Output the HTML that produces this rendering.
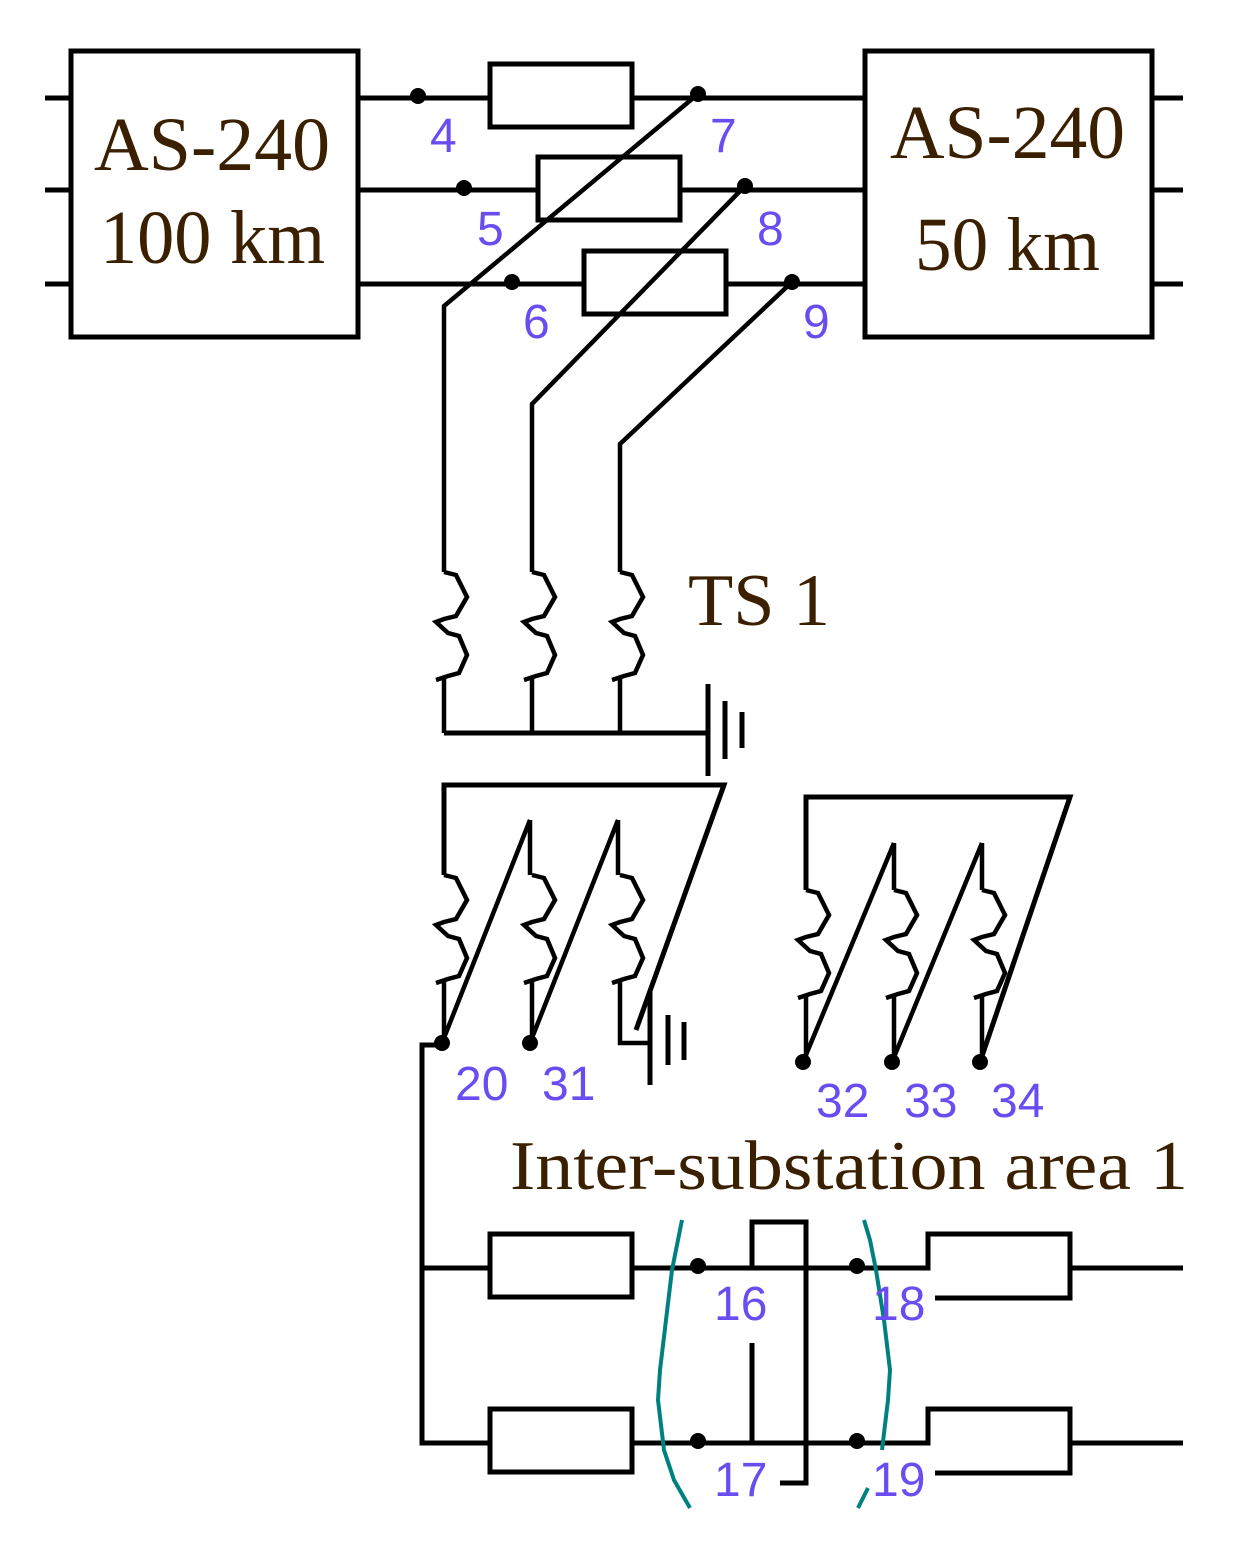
<!DOCTYPE html>
<html><head><meta charset="utf-8"><style>html,body{margin:0;padding:0;background:#fff}svg{display:block}</style></head>
<body>
<svg width="1239" height="1543" viewBox="0 0 1239 1543" xmlns="http://www.w3.org/2000/svg">
<g fill="none" stroke="#000" stroke-width="5">
<rect x="71" y="51" width="287" height="286"/>
<rect x="865" y="51" width="287" height="286"/>
<path d="M45 98H71M45 190H71M45 284H71M1152 98H1183M1152 190H1183M1152 284H1183"/>
<path d="M358 98H490M632 98H865M358 190H538M680 190H865M358 284H584M726 284H865"/>
<rect x="490" y="64" width="142" height="63"/>
<rect x="538" y="157" width="142" height="63"/>
<rect x="584" y="251" width="142" height="63"/>
<path d="M698 94L444 306V572M745 186L532 404V572M792 282L620 444V572" stroke-width="4.5"/>
<g stroke-width="4.5">
<path d="M444 572L456 575L467 597L456 616L444 619L436 622L448 633L459 636L467 655L459 673L448 676L436 680M444 678V733"/>
<path d="M532 572L544 575L555 597L544 616L532 619L524 622L536 633L547 636L555 655L547 673L536 676L524 680M532 678V733"/>
<path d="M620 572L632 575L643 597L632 616L620 619L612 622L624 633L635 636L643 655L635 673L624 676L612 680M620 678V733"/>
</g>
<path d="M444 733H708M708 684V776M725 701V759M742 712V748"/>
<path d="M444 875V785H724L636 1030"/>
<g stroke-width="4.5">
<path d="M444 875L456 878L467 900L456 919L444 922L436 925L448 936L459 939L467 958L459 976L448 979L436 983M444 981V1043"/>
<path d="M532 875L544 878L555 900L544 919L532 922L524 925L536 936L547 939L555 958L547 976L536 979L524 983M532 981V1043"/>
<path d="M620 875L632 878L643 900L632 919L620 922L612 925L624 936L635 939L643 958L635 976L624 979L612 983M620 981V1043H648"/>
<path d="M530 820V875M618 820V875"/>
<path d="M530 820L442 1043M618 820L530 1043"/>
</g>
<path d="M650 990V1085M668 1015V1065M684 1022V1060"/>
<path d="M806 890V797H1070L980 1062"/>
<g stroke-width="4.5">
<path d="M806 890L818 893L829 915L818 934L806 937L798 940L810 951L821 954L829 973L821 991L810 994L798 998M806 996V1062"/>
<path d="M894 890L906 893L917 915L906 934L894 937L886 940L898 951L909 954L917 973L909 991L898 994L886 998M894 996V1062"/>
<path d="M982 890L994 893L1005 915L994 934L982 937L974 940L986 951L997 954L1005 973L997 991L986 994L974 998M982 996V1062"/>
<path d="M894 843V890M982 843V890M894 843L803 1062M982 843L892 1062"/>
</g>
<path d="M440 1045H422V1443H490M422 1268H490M632 1268H928V1234H1070V1298H935M1070 1268H1183"/>
<rect x="490" y="1234" width="142" height="63"/>
<rect x="490" y="1409" width="142" height="63"/>
<path d="M632 1443H928V1409H1070V1473H935M1070 1443H1183"/>
<path d="M752 1268V1222H806V1483H780M752 1343V1443"/>
</g>
<g fill="none" stroke="#008080" stroke-width="4">
<path d="M682 1220L678 1240L672 1270L666 1320L660 1370L658 1400L664 1450L674 1480L690 1508"/>
<path d="M864 1220L870 1240L876 1270L884 1320L890 1370L888 1400L882 1450"/>
<path d="M868 1488L858 1508"/>
</g>
<g fill="#000">
<circle cx="418" cy="96" r="8"/><circle cx="698" cy="94" r="8"/>
<circle cx="464" cy="188" r="8"/><circle cx="745" cy="186" r="8"/>
<circle cx="512" cy="282" r="8"/><circle cx="792" cy="282" r="8"/>
<circle cx="442" cy="1043" r="8"/><circle cx="530" cy="1043" r="8"/>
<circle cx="803" cy="1062" r="8"/><circle cx="892" cy="1062" r="8"/><circle cx="980" cy="1062" r="8"/>
<circle cx="698" cy="1266" r="8"/><circle cx="857" cy="1266" r="8"/>
<circle cx="698" cy="1441" r="8"/><circle cx="857" cy="1441" r="8"/>
</g>
<g font-family="Liberation Serif, serif" fill="#3a2000">
<text x="94" y="170" font-size="76" textLength="236" lengthAdjust="spacingAndGlyphs">AS-240</text>
<text x="100" y="263" font-size="76" textLength="225" lengthAdjust="spacingAndGlyphs">100 km</text>
<text x="890" y="158" font-size="76" textLength="235" lengthAdjust="spacingAndGlyphs">AS-240</text>
<text x="915" y="270" font-size="76" textLength="185" lengthAdjust="spacingAndGlyphs">50 km</text>
<text x="688" y="625" font-size="74" textLength="142" lengthAdjust="spacingAndGlyphs">TS 1</text>
<text x="510" y="1189" font-size="70" textLength="678" lengthAdjust="spacingAndGlyphs">Inter-substation area 1</text>
</g>
<g font-family="Liberation Sans, sans-serif" fill="#6a4cf0" font-size="48">
<text x="430" y="152">4</text><text x="710" y="152">7</text>
<text x="477" y="245">5</text><text x="757" y="245">8</text>
<text x="523" y="338">6</text><text x="803" y="338">9</text>
<text x="455" y="1100">20</text><text x="542" y="1100">31</text>
<text x="816" y="1117">32</text><text x="904" y="1117">33</text><text x="991" y="1117">34</text>
<text x="714" y="1320">16</text><text x="872" y="1320">18</text>
<text x="714" y="1496">17</text><text x="872" y="1496">19</text>
</g>
</svg>
</body></html>
